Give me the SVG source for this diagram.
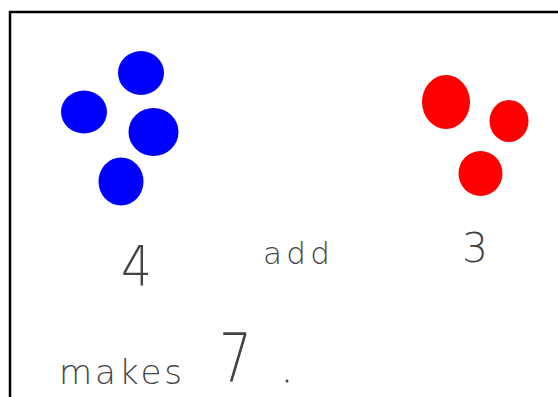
<svg xmlns="http://www.w3.org/2000/svg" width="558" height="397" viewBox="0 0 558 397">
<style>
.blue{fill:#0000ff}
.red{fill:#ff0000}
.hand{font-family:"DejaVu Sans","Liberation Sans",sans-serif;font-weight:200;fill:#444444}
</style>
<rect width="558" height="397" fill="#ffffff"/>
<path d="M10,397 V12 H558" fill="none" stroke="#000" stroke-width="2.5"/>
<g id="blue-dots">
<ellipse class="blue" cx="141" cy="73" rx="23" ry="22"/>
<ellipse class="blue" cx="84" cy="112" rx="23" ry="21.5"/>
<ellipse class="blue" cx="153.5" cy="132" rx="25" ry="24"/>
<ellipse class="blue" cx="121" cy="181.5" rx="22.5" ry="24"/>
</g>
<g id="red-dots">
<ellipse class="red" cx="446" cy="102" rx="24" ry="27"/>
<ellipse class="red" cx="509" cy="121" rx="19.5" ry="21"/>
<ellipse class="red" cx="480.5" cy="173.5" rx="22" ry="22.5"/>
</g>
<g id="labels">
<text class="hand" x="121" y="285" font-size="55" textLength="31" lengthAdjust="spacingAndGlyphs">4</text>
<text class="hand" x="263" y="264" font-size="31" textLength="67" lengthAdjust="spacing">add</text>
<text class="hand" x="462" y="262" font-size="40" textLength="26" lengthAdjust="spacingAndGlyphs">3</text>
<text class="hand" x="59" y="384" font-size="34" textLength="123" lengthAdjust="spacing">makes</text>
<text class="hand" x="219" y="382" font-size="68" textLength="33" lengthAdjust="spacingAndGlyphs">7</text>
<circle cx="287" cy="381" r="1.5" fill="#444444"/>
</g>
</svg>
